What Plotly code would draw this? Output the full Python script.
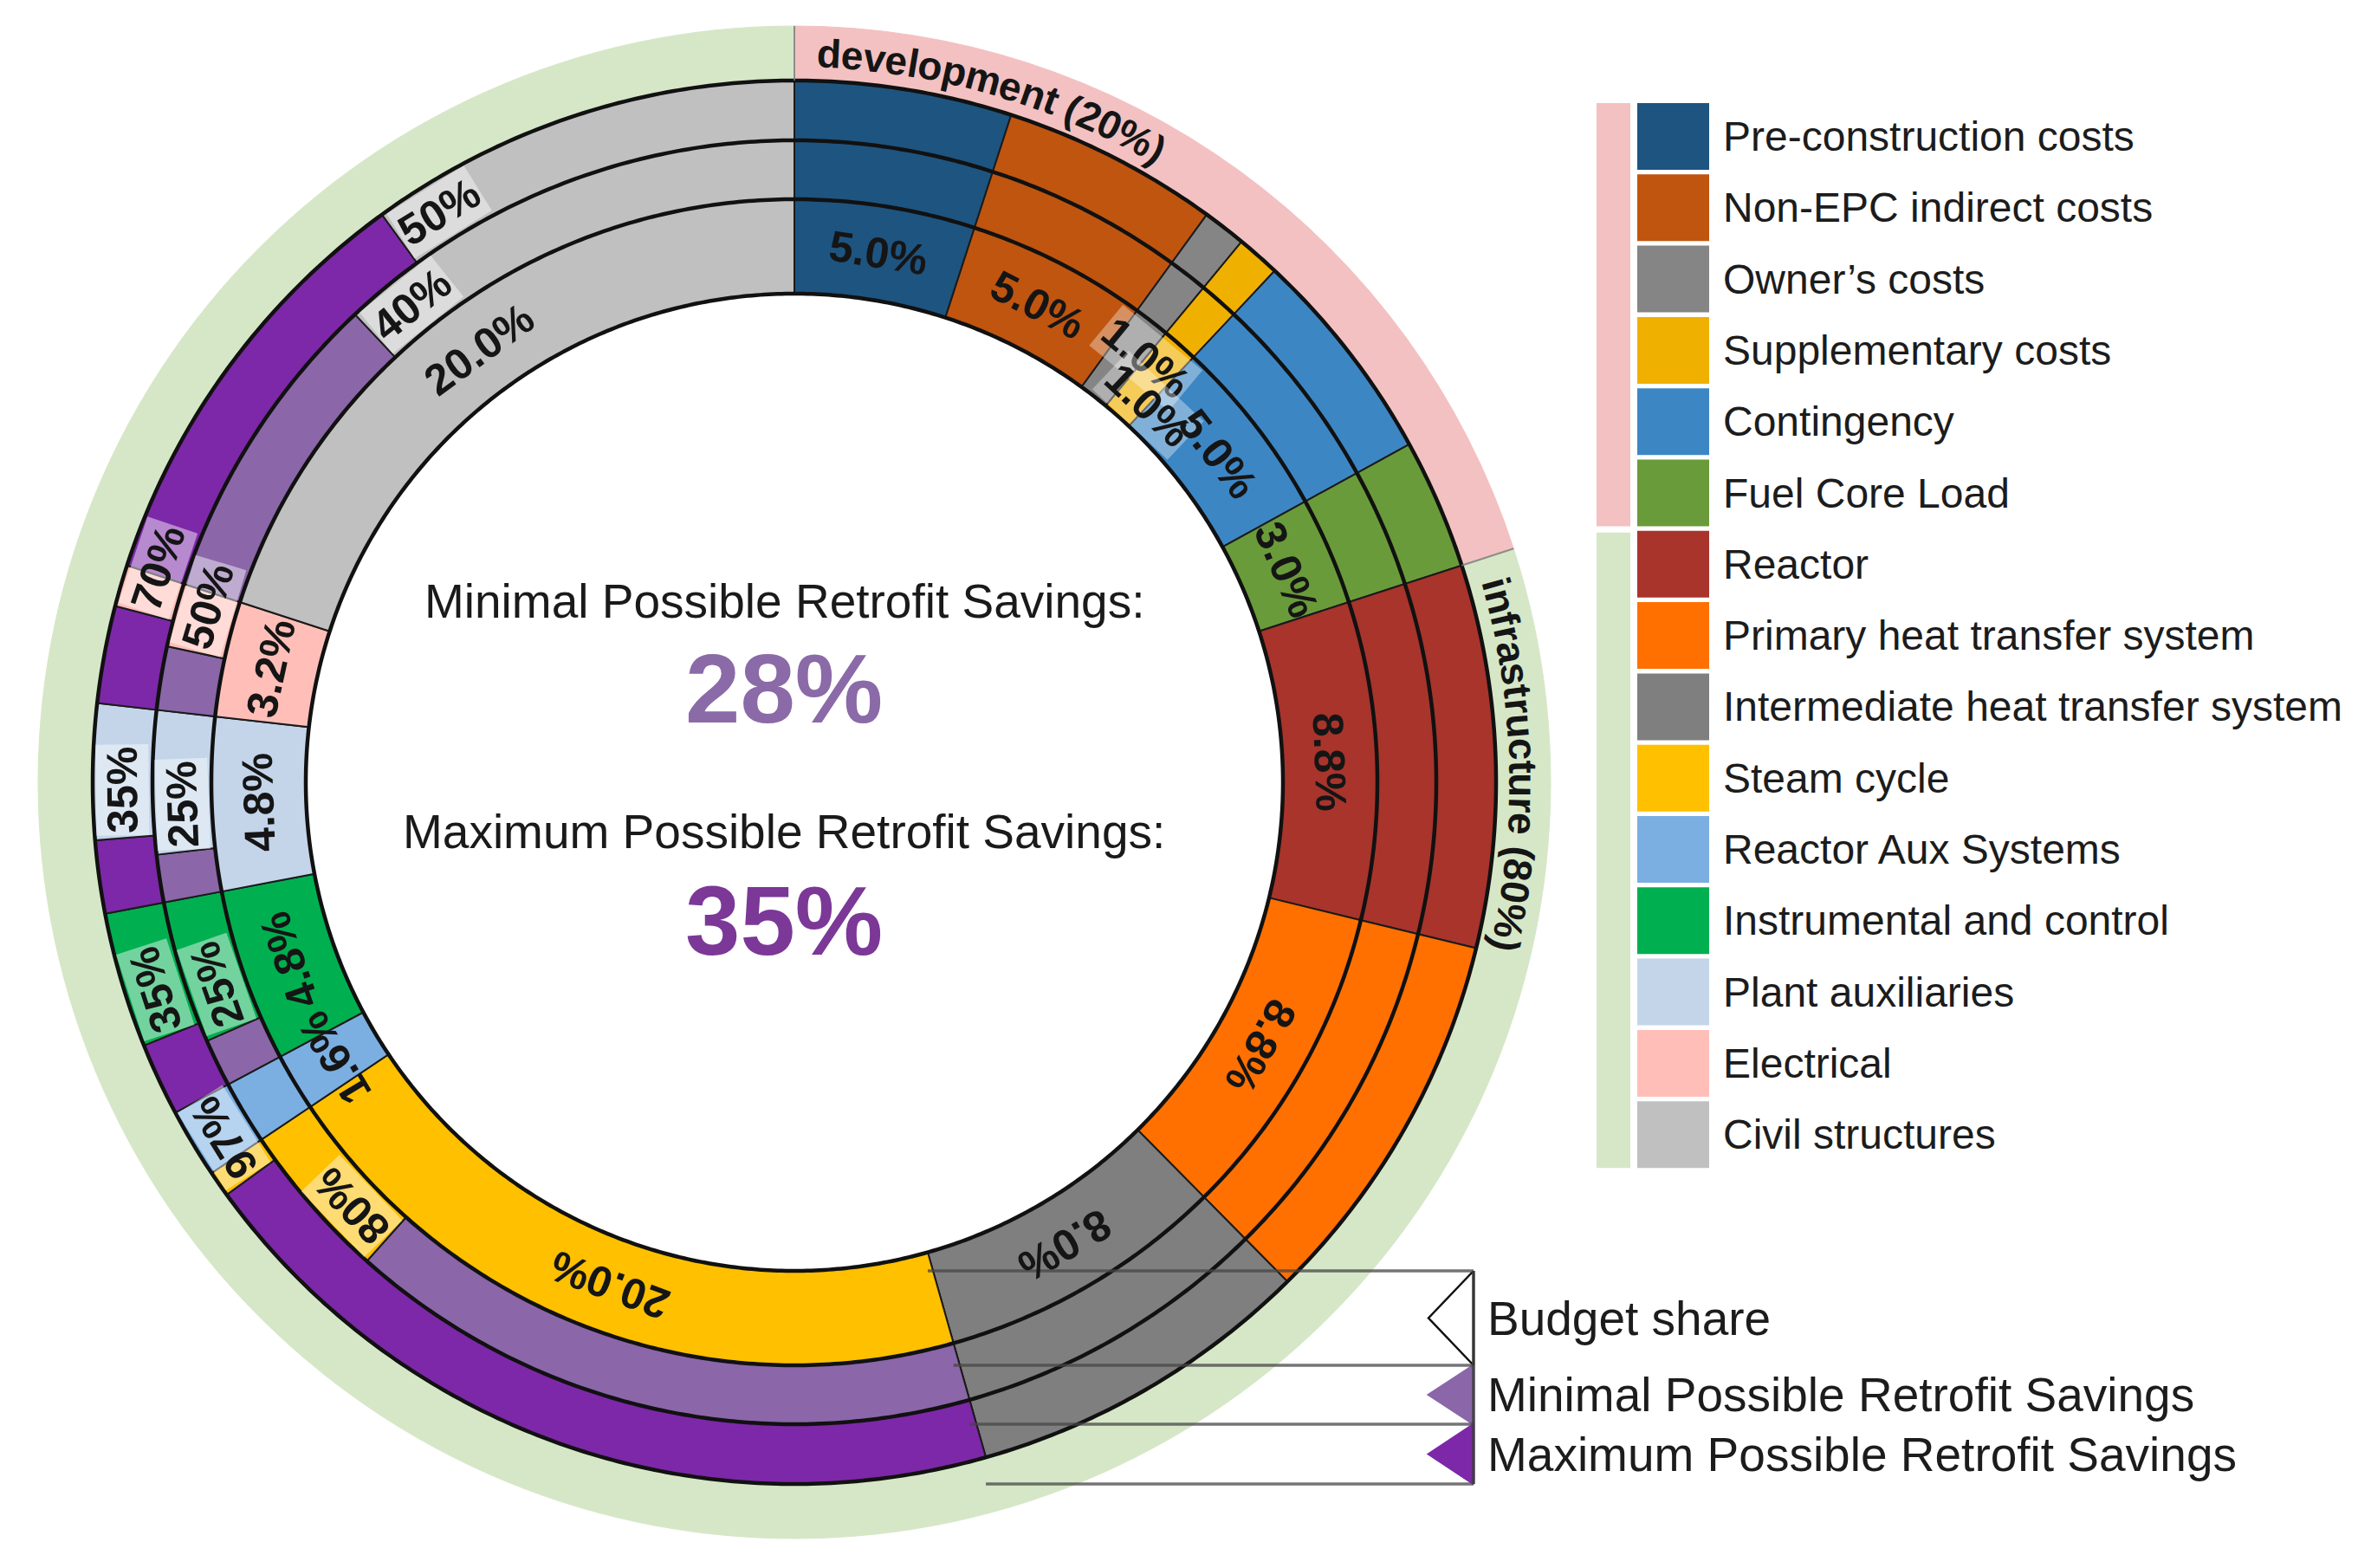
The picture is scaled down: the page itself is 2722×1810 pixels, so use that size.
import numpy as np
import plotly.graph_objects as go

# ---------------- data ----------------
categories = ["Pre-construction costs", "Non-EPC indirect costs", "Owner\u2019s costs",
              "Supplementary costs", "Contingency", "Fuel Core Load", "Reactor",
              "Primary heat transfer system", "Intermediate heat transfer system",
              "Steam cycle", "Reactor Aux Systems", "Instrumental and control",
              "Plant auxiliaries", "Electrical", "Civil structures"]
budget_share = [5.0, 5.0, 1.0, 1.0, 5.0, 3.0, 8.8, 8.8, 8.0, 20.0, 1.6, 4.8, 4.8, 3.2, 20.0]
min_savings = [0, 0, 0, 0, 0, 0, 0, 0, 0, 80, 0, 25, 25, 50, 40]
max_savings = [0, 0, 0, 0, 0, 0, 0, 0, 0, 97, 0, 35, 35, 70, 50]
category_colors = ["#1E5480", "#C0550F", "#858585", "#F0B000", "#3D86C4", "#6A9B3A",
                   "#A8342C", "#FF7000", "#7F7F7F", "#FFC000", "#7BAFE2", "#00B050",
                   "#C4D5EA", "#FFBFB8", "#C0C0C0"]
group_names = ["development", "infrastructure"]
group_share = [20, 80]
group_sizes = [6, 9]
group_colors = ["#F3C1C1", "#D6E7C7"]
ring_names = ["Budget share", "Minimal Possible Retrofit Savings", "Maximum Possible Retrofit Savings"]
ring_colors = ["#FFFFFF", "#8B66A9", "#7D28A8"]
center_colors = ["#8B6AA8", "#7B3897"]

# ---------------- geometry / style ----------------
PAGE_W, PAGE_H = 2722, 1810
OFF = 8                      # default body margin of the html page
W, H = PAGE_W - 2 * OFF, PAGE_H - 2 * OFF
CX, CY = 917, 903            # page pixels
R_HOLE, R_IN, R_MID, R_OUT, R_BAND = 564, 673, 741, 810, 873
R_AX = 880
FONT = "Liberation Sans, Arial, sans-serif"
LABEL_SIZE = 50
BAND_SIZE = 46
LEG_SIZE = 48

BOLD_W = {'0': .556, '1': .556, '2': .556, '3': .556, '4': .556, '5': .556, '6': .556,
          '7': .556, '8': .556, '9': .556, '.': .278, '%': .889, ' ': .278, '(': .333,
          ')': .333, 'a': .556, 'c': .556, 'd': .611, 'e': .556, 'f': .333, 'i': .278,
          'l': .278, 'm': .889, 'n': .611, 'o': .611, 'p': .611, 'r': .389, 's': .556,
          't': .333, 'u': .611, 'v': .556}


def text_width(t, size):
    return sum(BOLD_W.get(c, .556) for c in t) * size


def px2paper_x(x):
    return (x - OFF) / W


def px2paper_y(y):
    return 1 - (y - OFF) / H


share = np.array(budget_share, dtype=float)
deg = share / share.sum() * 360.0
start = np.concatenate([[0.0], np.cumsum(deg)[:-1]])
n = len(categories)

gshare = np.array(group_share, dtype=float)
gdeg = gshare / gshare.sum() * 360.0
gstart = np.concatenate([[0.0], np.cumsum(gdeg)[:-1]])

fig = go.Figure()


def seg_trace(base, top, thetas, widths, colors, lw=2.0, lc="#1b1b1b"):
    m = len(thetas)
    return go.Barpolar(theta=list(thetas), width=list(widths), base=[base] * m,
                       r=[top - base] * m,
                       marker=dict(color=list(colors), line=dict(color=lc, width=lw)),
                       hoverinfo="skip", showlegend=False)


# outer group band
fig.add_trace(go.Barpolar(theta=list(gstart + gdeg / 2), width=list(gdeg),
                          base=[R_OUT] * 2, r=[R_BAND - R_OUT] * 2,
                          marker=dict(color=group_colors, line=dict(color=group_colors, width=1)),
                          hoverinfo="skip", showlegend=False))

# inner ring: budget share
fig.add_trace(seg_trace(R_HOLE, R_IN, start + deg / 2, deg, category_colors))

# savings rings
for sav, r0, r1, pc in [(min_savings, R_IN, R_MID, ring_colors[1]),
                        (max_savings, R_MID, R_OUT, ring_colors[2])]:
    th, wd, cl = [], [], []
    for i in range(n):
        f = sav[i] / 100.0
        if f > 0:
            th.append(start[i] + f * deg[i] / 2)
            wd.append(f * deg[i])
            cl.append(pc)
        th.append(start[i] + f * deg[i] + (1 - f) * deg[i] / 2)
        wd.append((1 - f) * deg[i])
        cl.append(category_colors[i])
    fig.add_trace(seg_trace(r0, r1, th, wd, cl))

# concentric circles
circ = np.linspace(0, 360, 721)
for r in [R_HOLE, R_IN, R_MID, R_OUT]:
    fig.add_trace(go.Scatterpolar(theta=circ, r=np.full_like(circ, r), mode="lines",
                                  line=dict(color="#111111", width=4.5),
                                  hoverinfo="skip", showlegend=False))

# band separators
for a in gstart:
    fig.add_trace(go.Scatterpolar(theta=[a, a], r=[R_OUT, R_BAND], mode="lines",
                                  line=dict(color="rgba(120,120,120,0.8)", width=2),
                                  hoverinfo="skip", showlegend=False))

annotations = []
shapes = []


def norm_angle(a):
    return ((a + 180.0) % 360.0) - 180.0


def arc_text(text, r, a, size=LABEL_SIZE, bold=True, bg=None, color="#151515"):
    t = np.radians(a)
    annotations.append(dict(
        x=float(r * np.sin(t)), y=float(r * np.cos(t)), xref="x", yref="y",
        text=f"<b>{text}</b>" if bold else text, textangle=float(norm_angle(a)),
        showarrow=False, xanchor="center", yanchor="middle",
        font=dict(family=FONT, size=size, color=color),
        bgcolor=bg if bg else "rgba(0,0,0,0)", borderpad=2))


# budget labels (inner ring)
rm_in = (R_HOLE + R_IN) / 2
small_k = 0
for i in range(n):
    r = rm_in
    a = start[i] + deg[i] / 2
    bg = None
    if share[i] < 1.5:
        r = rm_in + (18 if small_k % 2 == 0 else -22)
        a = a + 1.8
        bg = "rgba(255,255,255,0.35)"
        small_k += 1
    arc_text(f"{share[i]:.1f}%", r, a, bg=bg)

# savings labels (start of the remaining coloured part)
for sav, r0, r1 in [(min_savings, R_IN, R_MID), (max_savings, R_MID, R_OUT)]:
    rm = (r0 + r1) / 2
    for i in range(n):
        if sav[i] > 0:
            txt = f"{sav[i]}%"
            w = text_width(txt, LABEL_SIZE)
            a0 = start[i] + sav[i] / 100.0 * deg[i]
            a = a0 + np.degrees((w / 2 + 5) / rm)
            arc_text(txt, rm, a, bg="rgba(255,255,255,0.45)")

# curved group labels
r_band = (R_OUT + R_BAND) / 2
for g in range(len(group_names)):
    txt = f"{group_names[g]} ({group_share[g]}%)"
    cum = 0.0
    for ch in txt:
        cw = BOLD_W.get(ch, .556) * BAND_SIZE
        a = gstart[g] + 1.8 + np.degrees((cum + cw / 2) / r_band)
        if ch != " ":
            arc_text(ch, r_band, a, size=BAND_SIZE)
        cum += cw

# centre texts
total_min = float(np.sum(share * np.array(min_savings)) / 100.0)
total_max = float(np.sum(share * np.array(max_savings)) / 100.0)
cx_text = px2paper_x(CX - 12)
for txt, ypx, size, col, bold in [
        (f"{ring_names[1]}:", 694, 55, "#1a1a1a", False),
        (f"{total_min:.0f}%", 795, 114, center_colors[0], True),
        (f"{ring_names[2]}:", 960, 55, "#1a1a1a", False),
        (f"{total_max:.0f}%", 1062, 114, center_colors[1], True)]:
    annotations.append(dict(x=cx_text, y=px2paper_y(ypx), xref="paper", yref="paper",
                            text=f"<b>{txt}</b>" if bold else txt, showarrow=False,
                            xanchor="center", yanchor="middle",
                            font=dict(family=FONT, size=size, color=col)))

# category legend
LEG_TOP, LEG_PITCH, LEG_H = 119, 82.3, 77
STRIP_X0, STRIP_X1, SW_X0, SW_X1, TXT_X = 1843, 1882, 1890, 1973, 1987
idx = 0
for g in range(len(group_sizes)):
    y0 = LEG_TOP + idx * LEG_PITCH + (2 if g > 0 else 0)
    y1 = LEG_TOP + (idx + group_sizes[g] - 1) * LEG_PITCH + LEG_H
    shapes.append(dict(type="rect", xref="paper", yref="paper",
                       x0=px2paper_x(STRIP_X0), x1=px2paper_x(STRIP_X1),
                       y0=px2paper_y(y0), y1=px2paper_y(y1),
                       fillcolor=group_colors[g], line=dict(width=0), layer="above"))
    idx += group_sizes[g]
for i in range(n):
    y0 = LEG_TOP + i * LEG_PITCH
    shapes.append(dict(type="rect", xref="paper", yref="paper",
                       x0=px2paper_x(SW_X0), x1=px2paper_x(SW_X1),
                       y0=px2paper_y(y0), y1=px2paper_y(y0 + LEG_H),
                       fillcolor=category_colors[i], line=dict(width=0), layer="above"))
    annotations.append(dict(x=px2paper_x(TXT_X), y=px2paper_y(y0 + LEG_H / 2),
                            xref="paper", yref="paper", text=categories[i],
                            showarrow=False, xanchor="left", yanchor="middle",
                            font=dict(family=FONT, size=LEG_SIZE, color="#1c1c1c")))

# ring legend with leader lines
ring_radii = [R_HOLE, R_IN, R_MID, R_OUT]
X_END = 784
steam_start = start[categories.index("Steam cycle")]
for r in ring_radii:
    x0 = r * np.sin(np.radians(steam_start))
    shapes.append(dict(type="line", xref="x", yref="y", x0=float(x0), x1=X_END,
                       y0=-r, y1=-r, line=dict(color="rgba(70,70,70,0.75)", width=3.5),
                       layer="above"))
shapes.append(dict(type="line", xref="x", yref="y", x0=X_END, x1=X_END,
                   y0=-R_HOLE, y1=-R_OUT, line=dict(color="rgba(60,60,60,0.85)", width=3.5),
                   layer="above"))
for k in range(3):
    yt, yb = -ring_radii[k], -ring_radii[k + 1]
    fig.add_trace(go.Scatter(x=[X_END, X_END - 52, X_END, X_END], y=[yt, (yt + yb) / 2, yb, yt],
                             fill="toself", fillcolor=ring_colors[k], mode="lines",
                             line=dict(color="#111111" if k == 0 else ring_colors[k], width=2.5),
                             hoverinfo="skip", showlegend=False))
    annotations.append(dict(x=px2paper_x(CX + X_END + 14), y=px2paper_y(CY - (yt + yb) / 2),
                            xref="paper", yref="paper", text=ring_names[k], showarrow=False,
                            xanchor="left", yanchor="middle",
                            font=dict(family=FONT, size=55, color="#1c1c1c")))

dom_x = [(CX - OFF - R_AX) / W, (CX - OFF + R_AX) / W]
dom_y = [1 - (CY - OFF + R_AX) / H, 1 - (CY - OFF - R_AX) / H]
fig.update_layout(
    width=W, height=H, margin=dict(l=0, r=0, t=0, b=0),
    paper_bgcolor="white", plot_bgcolor="rgba(0,0,0,0)",
    font=dict(family=FONT),
    showlegend=False,
    polar=dict(domain=dict(x=dom_x, y=dom_y), bgcolor="rgba(0,0,0,0)", bargap=0,
               radialaxis=dict(range=[0, R_AX], visible=False),
               angularaxis=dict(rotation=90, direction="clockwise", visible=False)),
    xaxis=dict(domain=dom_x, range=[-R_AX, R_AX], visible=False, fixedrange=True),
    yaxis=dict(domain=dom_y, range=[-R_AX, R_AX], visible=False, fixedrange=True),
    annotations=annotations, shapes=shapes,
)

fig.write_html("out.html")
